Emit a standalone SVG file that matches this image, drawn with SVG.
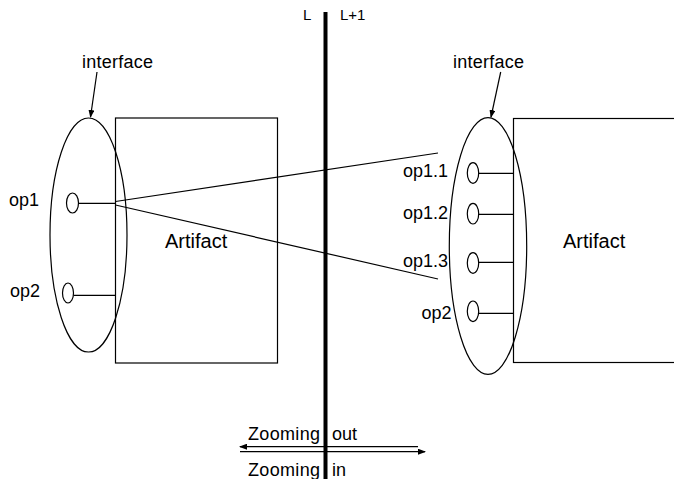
<svg xmlns="http://www.w3.org/2000/svg" width="674" height="479" viewBox="0 0 674 479">
<defs>
<style>
text{font-family:"Liberation Sans",Arial,sans-serif;fill:#000}
.s{fill:none;stroke:#000;stroke-width:1.2}
.f{fill:#fff;stroke:#000;stroke-width:1.2}
.l{font-size:18px}
.a{font-size:20px}
</style>
<marker id="ah" markerWidth="8" markerHeight="6" refX="7" refY="3" orient="auto" markerUnits="userSpaceOnUse">
<path d="M0,0 L8,3 L0,6 z" fill="#000"/>
</marker>
</defs>
<g id="left-artifact">
<rect class="f" x="115.5" y="118" width="162" height="245"/>
<text class="a" x="165" y="248">Artifact</text>
</g>
<g id="left-interface">
<ellipse class="s" cx="88.5" cy="235" rx="38.5" ry="117"/>
<text class="l" x="82" y="68" textLength="71">interface</text>
</g>
<g id="left-op1">
<ellipse class="s" cx="72.5" cy="203" rx="6" ry="10"/>
<text class="l" x="9" y="206">op1</text>
</g>
<g id="left-op2">
<ellipse class="s" cx="68" cy="293" rx="5.5" ry="10"/>
<text class="l" x="10" y="297">op2</text>
</g>
<g id="right-artifact">
<rect class="f" x="513.5" y="118.5" width="200" height="244"/>
<text class="a" x="563" y="248">Artifact</text>
</g>
<g id="right-interface">
<ellipse class="s" cx="488" cy="246" rx="38.7" ry="128.3"/>
<text class="l" x="453" y="68" textLength="71">interface</text>
</g>
<g id="right-op1-1">
<ellipse class="s" cx="473" cy="173" rx="5.7" ry="10.3"/>
<text class="l" x="403" y="177">op1.1</text>
</g>
<g id="right-op1-2">
<ellipse class="s" cx="473" cy="213.7" rx="5.7" ry="10.3"/>
<text class="l" x="403" y="219">op1.2</text>
</g>
<g id="right-op1-3">
<ellipse class="s" cx="473" cy="263" rx="5.7" ry="10.3"/>
<text class="l" x="403" y="267">op1.3</text>
</g>
<g id="right-op2">
<ellipse class="s" cx="473" cy="311.3" rx="5.7" ry="10.3"/>
<text class="l" x="421.5" y="319">op2</text>
</g>
<g id="layer-boundary">
<line x1="325.5" y1="12" x2="325.5" y2="479" stroke="#000" stroke-width="4"/>
<text x="303" y="20" style="font-size:15px">L</text>
<text x="340" y="20" style="font-size:15px">L+1</text>
</g>
<g id="connectors">
<line class="s" x1="78.5" y1="203.3" x2="115.5" y2="203.3"/>
<line class="s" x1="73.5" y1="295.3" x2="115.5" y2="295.3"/>
<line class="s" x1="478.7" y1="173.3" x2="513.5" y2="173.3"/>
<line class="s" x1="478.7" y1="214.3" x2="513.5" y2="214.3"/>
<line class="s" x1="478.7" y1="262.3" x2="513.5" y2="262.3"/>
<line class="s" x1="478.7" y1="313.3" x2="513.5" y2="313.3"/>
<line class="s" x1="115.5" y1="201.5" x2="438" y2="153"/>
<line class="s" x1="115.5" y1="205" x2="438" y2="279"/>
<line class="s" x1="97" y1="72" x2="90.5" y2="117" marker-end="url(#ah)"/>
<line class="s" x1="500.7" y1="72" x2="491" y2="117" marker-end="url(#ah)"/>
<line class="s" x1="418" y1="446.7" x2="240" y2="446.7" marker-end="url(#ah)"/>
<line class="s" x1="240" y1="451.7" x2="425" y2="451.7" marker-end="url(#ah)"/>
</g>
<g id="zoom-labels">
<text class="l" x="248" y="440" textLength="72">Zooming</text>
<text class="l" x="332" y="440">out</text>
<text class="l" x="248" y="476" textLength="72">Zooming</text>
<text class="l" x="332" y="476">in</text>
</g>
</svg>
